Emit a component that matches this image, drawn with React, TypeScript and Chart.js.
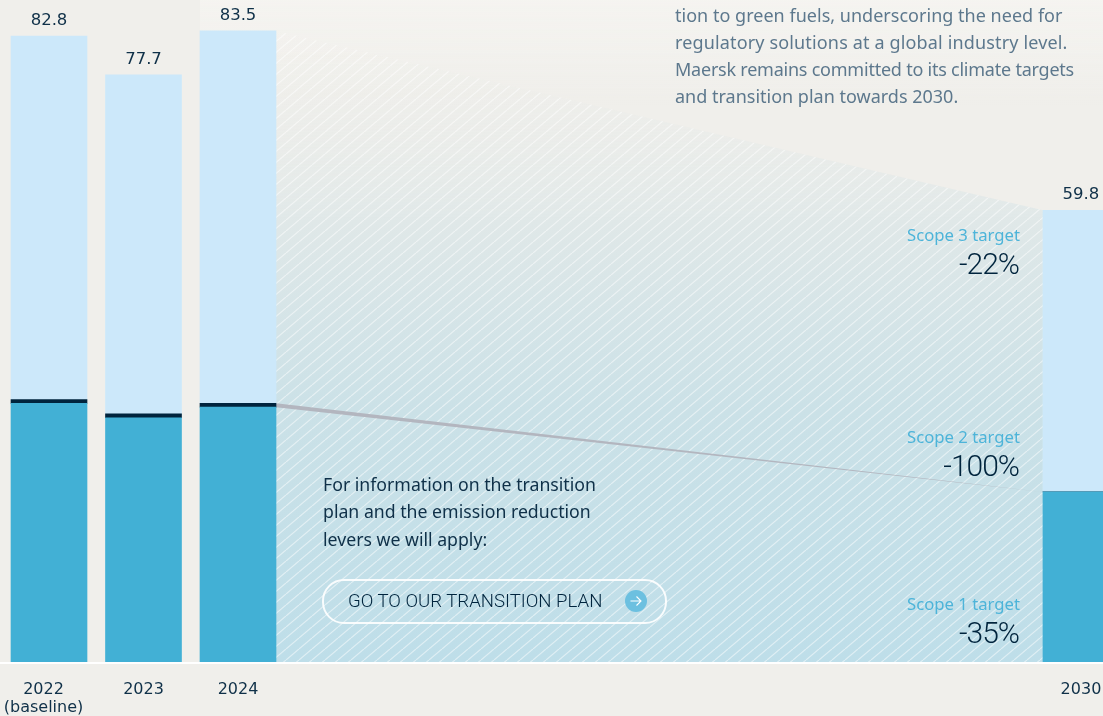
import React, { useEffect, useRef } from "react";
import { Chart, registerables } from "chart.js";

Chart.register(...registerables);

// Emissions by year, million tonnes CO2e
const years = [2022, 2023, 2024, 2030];
const tickLabels: (string | string[])[] = [["2022", "(baseline)"], "2023", "2024", "2030"];
const totals = [82.8, 77.7, 83.5, 59.8];
const scope1 = [34.3, 32.4, 33.8, 22.6];
const scope2 = [0.5, 0.5, 0.5, 0];
const scope3 = [48.0, 44.8, 49.2, 37.2];

const targets = [
  { name: "Scope 3 target", change: "-22%", top: 224 },
  { name: "Scope 2 target", change: "-100%", top: 426 },
  { name: "Scope 1 target", change: "-35%", top: 593 },
];
const noteLines = [
  "tion to green fuels, underscoring the need for",
  "regulatory solutions at a global industry level.",
  "Maersk remains committed to its climate targets",
  "and transition plan towards 2030.",
];
const noteTracking = [0.02, 0.15, -0.23, 0];
const infoLines = [
  "For information on the transition",
  "plan and the emission reduction",
  "levers we will apply:",
];

const WIDTH = 1103;
const HEIGHT = 716;
const NAVY = "#00243d";
const NUMBER_INK = "#0f3048";
const BODY_FONT = "'Noto Sans', sans-serif";
const NUMBER_FONT = "'DejaVu Sans', sans-serif";
const SLOT_PX = 94.5;
const BAR_PX = 76;
const HALF_BAR = BAR_PX / 2 / SLOT_PX;
const X_MIN = -49 / SLOT_PX;
const X_MAX = X_MIN + WIDTH / SLOT_PX;

// The axis is broken after 2024: the six years to 2030 share a shorter span.
const slotOf = (year: number) =>
  year <= 2024 ? year - 2022 : 2 + (year - 2024) * 1.4867;
const xy = (arr: number[]) => arr.map((y, i) => ({ x: slotOf(years[i]), y }));

function hatchPattern() {
  const w = 13;
  const h = 11;
  const tile = document.createElement("canvas");
  tile.width = w;
  tile.height = h;
  const g = tile.getContext("2d")!;
  g.strokeStyle = "rgba(255,255,255,0.5)";
  g.lineWidth = 1.2;
  for (const k of [-1, 0, 1]) {
    g.beginPath();
    g.moveTo(k * w, h);
    g.lineTo((k + 1) * w, 0);
    g.stroke();
  }
  return g.createPattern(tile, "repeat")!;
}

// Soft lighter band behind the top of the page.
const topGlow = {
  id: "topGlow",
  beforeDraw(chart: any) {
    const { ctx } = chart;
    const grad = ctx.createLinearGradient(0, 0, 0, 105);
    grad.addColorStop(0, "rgba(248,247,244,0.6)");
    grad.addColorStop(1, "rgba(248,247,244,0)");
    ctx.save();
    ctx.fillStyle = grad;
    ctx.fillRect(200, 0, WIDTH - 200, 105);
    ctx.restore();
  },
};

// Total above each stacked bar.
const totalLabels = {
  id: "totalLabels",
  afterDatasetsDraw(chart: any) {
    const { ctx, scales } = chart;
    ctx.save();
    ctx.font = `16.5px ${NUMBER_FONT}`;
    ctx.fillStyle = NUMBER_INK;
    ctx.textAlign = "center";
    ctx.textBaseline = "alphabetic";
    totals.forEach((v, i) => {
      ctx.fillText(
        v.toFixed(1),
        scales.x.getPixelForValue(slotOf(years[i])),
        scales.y.getPixelForValue(v) - 11
      );
    });
    ctx.restore();
  },
};

export default function App() {
  const ref = useRef<HTMLCanvasElement>(null);

  useEffect(() => {
    const wedgeX = [slotOf(2024) + HALF_BAR, slotOf(2030) - HALF_BAR];
    const wedge = (a: number, b: number) => [
      { x: wedgeX[0], y: a },
      { x: wedgeX[1], y: b },
    ];
    const lineBase = {
      type: "line" as const,
      pointRadius: 0,
      borderWidth: 0,
      tension: 0,
    };
    const chart = new Chart(ref.current!, {
      data: {
        datasets: [
          {
            ...lineBase,
            label: "Pathway band",
            order: 4,
            data: wedge(totals[2], totals[3]),
            fill: "origin",
            backgroundColor: (c: any) => {
              const area = c.chart.chartArea;
              if (!area) return "rgba(0,0,0,0)";
              const g = c.chart.ctx.createLinearGradient(0, area.top + 30, 0, area.bottom);
              g.addColorStop(0, "rgba(240,239,235,0)");
              g.addColorStop(0.3, "#e0e8e8");
              g.addColorStop(0.6, "#cbe1e7");
              g.addColorStop(1, "#bedee9");
              return g;
            },
          },
          {
            ...lineBase,
            label: "Pathway hatch",
            order: 3,
            data: wedge(totals[2], totals[3]),
            fill: "origin",
            backgroundColor: hatchPattern(),
          },
          {
            ...lineBase,
            label: "Scope 2 taper",
            order: 2,
            data: wedge(scope1[2] + scope2[2], scope1[3] + scope2[3]),
            fill: "+1",
            backgroundColor: "#b3b6bf",
          },
          {
            ...lineBase,
            label: "Scope 1 taper",
            order: 2,
            data: wedge(scope1[2], scope1[3]),
            fill: false,
          },
          {
            type: "bar",
            label: "Scope 1",
            data: xy(scope1),
            backgroundColor: "#42b0d5",
            stack: "emissions",
            barThickness: BAR_PX,
            order: 1,
          },
          {
            type: "bar",
            label: "Scope 2",
            data: xy(scope2),
            backgroundColor: NAVY,
            stack: "emissions",
            barThickness: BAR_PX,
            order: 1,
          },
          {
            type: "bar",
            label: "Scope 3",
            data: xy(scope3),
            backgroundColor: "#cce8fa",
            stack: "emissions",
            barThickness: BAR_PX,
            order: 1,
          },
        ],
      } as any,
      options: {
        responsive: false,
        animation: false,
        events: [],
        layout: { padding: 0, autoPadding: false },
        plugins: { legend: { display: false }, tooltip: { enabled: false } },
        scales: {
          x: {
            type: "linear",
            offset: false,
            min: X_MIN,
            max: X_MAX,
            afterFit: (s: any) => {
              s.height = HEIGHT - 663;
              s.paddingLeft = 0;
              s.paddingRight = 0;
            },
            afterBuildTicks: (s: any) => {
              // The two-line baseline label sits slightly left so it stays on the page.
              s.ticks = years.map((y, i) => ({ value: slotOf(y) - (i === 0 ? 0.058 : 0) }));
            },
            afterTickToLabelConversion: (s: any) => {
              s.ticks.forEach((t: any, i: number) => {
                t.label = tickLabels[i];
              });
            },
            grid: {
              display: true,
              drawOnChartArea: false,
              drawTicks: false,
            },
            border: { display: true, color: "#ffffff", width: 2, z: 2 },
            ticks: {
              autoSkip: false,
              maxRotation: 0,
              padding: 18,
              color: NUMBER_INK,
              font: { family: NUMBER_FONT, size: 16, lineHeight: 1.1 },
            },
          },
          y: { display: false, min: 0, max: 663 / 7.57 },
        },
      } as any,
      plugins: [topGlow, totalLabels],
    });
    return () => chart.destroy();
  }, []);

  const textBase: React.CSSProperties = {
    position: "absolute",
    whiteSpace: "nowrap",
    fontFamily: BODY_FONT,
  };

  return (
    <div
      style={{
        position: "absolute",
        left: 0,
        top: 0,
        width: WIDTH,
        height: HEIGHT,
        overflow: "hidden",
        background: "#f0efeb",
      }}
    >
      <canvas ref={ref} width={WIDTH} height={HEIGHT} style={{ display: "block" }} />

      {noteLines.map((t, i) => (
        <div
          key={t}
          style={{
            ...textBase,
            left: 675,
            top: 1.5 + i * 27,
            lineHeight: "27px",
            fontSize: 18,
            letterSpacing: noteTracking[i],
            color: "#5d788d",
          }}
        >
          {t}
        </div>
      ))}

      {targets.map((t) => (
        <React.Fragment key={t.name}>
          <div style={{ ...textBase, right: 83, top: t.top, lineHeight: "22px", fontSize: 16.7, color: "#4db4d9" }}>
            {t.name}
          </div>
          <div
            style={{
              ...textBase,
              right: 84,
              top: t.top + 20,
              lineHeight: "40px",
              fontSize: 30,
              letterSpacing: -1,
              fontWeight: 300,
              fontFamily: "Roboto, sans-serif",
              color: NAVY,
            }}
          >
            {t.change}
          </div>
        </React.Fragment>
      ))}

      {infoLines.map((t, i) => (
        <div
          key={t}
          style={{ ...textBase, left: 323, top: 470.5 + i * 27.5, lineHeight: "27px", fontSize: 17.7, color: NUMBER_INK }}
        >
          {t}
        </div>
      ))}

      <div
        style={{
          position: "absolute",
          left: 322,
          top: 579,
          width: 345,
          height: 44.5,
          boxSizing: "border-box",
          border: "2px solid rgba(255,255,255,0.9)",
          borderRadius: 22,
        }}
      />
      <div
        style={{
          ...textBase,
          left: 348,
          top: 590,
          lineHeight: "22px",
          fontSize: 18.6,
          fontFamily: "Roboto, sans-serif",
          fontWeight: 300,
          color: NAVY,
        }}
      >
        GO TO OUR TRANSITION PLAN
      </div>
      <svg style={{ position: "absolute", left: 625, top: 590 }} width={22} height={22} viewBox="0 0 22 22">
        <circle cx={11} cy={11} r={11} fill="#6cc0e0" />
        <path d="M5.5 11H16M11.5 6.5L16 11L11.5 15.5" fill="none" stroke="#ffffff" strokeWidth={1.1} />
      </svg>
    </div>
  );
}
